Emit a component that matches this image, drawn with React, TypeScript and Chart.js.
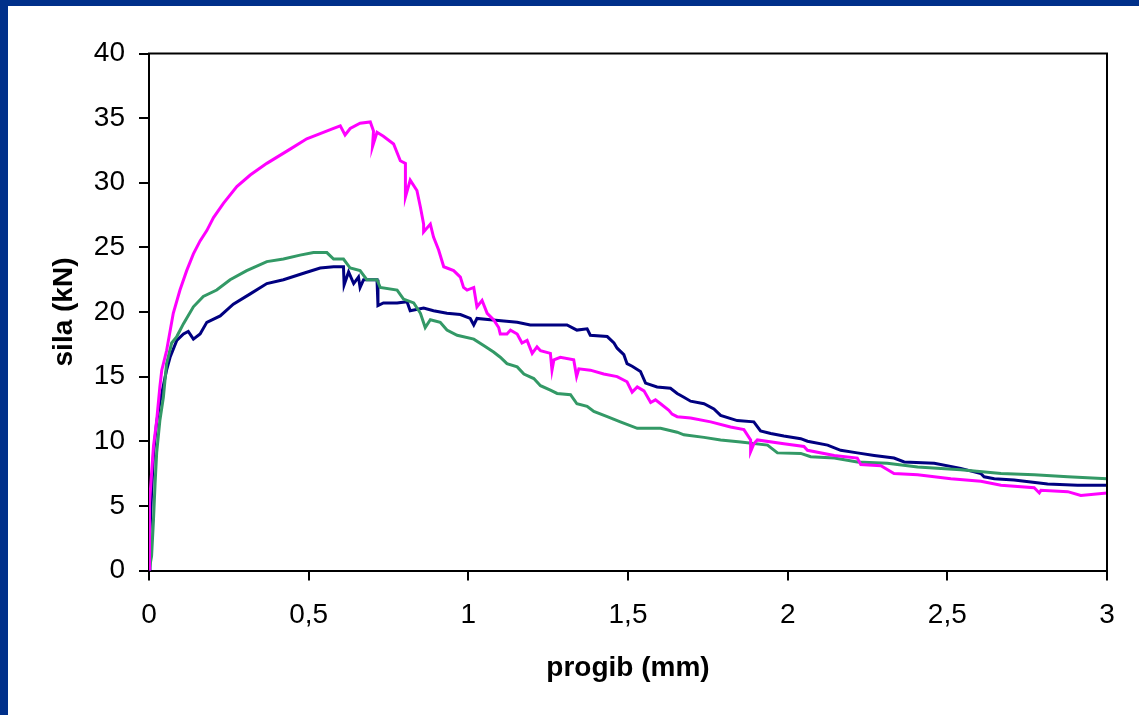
import React, { useEffect, useRef } from 'react';
import { Chart, registerables } from 'chart.js';

Chart.register(...registerables);

// progib (mm) / sila (kN) — series
const magentaX = [
  0.0, 0.0, 0.003, 0.008, 0.014, 0.024, 0.034, 0.04, 0.055, 0.076, 0.097, 0.118, 0.139, 0.16, 0.181, 0.202,
  0.233, 0.275, 0.317, 0.369, 0.442, 0.494, 0.536, 0.578, 0.599, 0.614, 0.63, 0.661, 0.693, 0.703, 0.7,
  0.714, 0.734, 0.766, 0.787, 0.803, 0.803, 0.818, 0.839, 0.85, 0.86, 0.86, 0.881, 0.891, 0.907, 0.923,
  0.954, 0.975, 0.985, 0.996, 1.017, 1.027, 1.043, 1.059, 1.079, 1.095, 1.1, 1.121, 1.132, 1.153, 1.168,
  1.184, 1.2, 1.215, 1.226, 1.257, 1.262, 1.268, 1.288, 1.33, 1.339, 1.346, 1.382, 1.424, 1.466, 1.497,
  1.513, 1.529, 1.55, 1.571, 1.586, 1.602, 1.628, 1.638, 1.654, 1.696, 1.759, 1.821, 1.863, 1.884, 1.884,
  1.894, 1.905, 1.988, 2.051, 2.062, 2.146, 2.218, 2.229, 2.292, 2.333, 2.407, 2.511, 2.605, 2.668, 2.772,
  2.788, 2.793, 2.877, 2.918, 3.0,
];
const magentaY = [
  0.0, 2.5, 5.2, 7.5, 9.6, 11.6, 14.2, 15.5, 17.0, 19.9, 21.7, 23.2, 24.5, 25.5, 26.3, 27.3,
  28.4, 29.7, 30.6, 31.5, 32.6, 33.4, 33.8, 34.2, 34.4, 33.7, 34.2, 34.6, 34.7, 34.0, 32.8,
  33.9, 33.6, 33.0, 31.7, 31.5, 28.9, 30.2, 29.4, 28.1, 26.8, 26.2, 26.8, 25.8, 24.8, 23.5,
  23.2, 22.7, 21.9, 21.7, 21.9, 20.4, 20.9, 19.9, 19.4, 18.8, 18.3, 18.3, 18.6, 18.3, 17.6,
  17.8, 16.8, 17.3, 17.0, 16.8, 15.5, 16.3, 16.5, 16.3, 15.0, 15.6, 15.5, 15.2, 15.0, 14.6,
  13.8, 14.2, 13.9, 13.0, 13.2, 12.9, 12.4, 12.1, 11.9, 11.8, 11.5, 11.1, 10.9, 10.1, 9.2,
  9.8, 10.1, 9.8, 9.6, 9.3, 8.9, 8.7, 8.2, 8.1, 7.5, 7.4, 7.1, 6.9, 6.6, 6.4,
  6.0, 6.2, 6.1, 5.8, 6.0,
];

const navyX = [
  0.0, 0.003, 0.008, 0.014, 0.024, 0.034, 0.045, 0.055, 0.066, 0.087, 0.108, 0.123, 0.139, 0.16, 0.181,
  0.223, 0.264, 0.317, 0.369, 0.421, 0.484, 0.536, 0.578, 0.609, 0.611, 0.625, 0.641, 0.656, 0.661, 0.672,
  0.714, 0.717, 0.734, 0.777, 0.808, 0.818, 0.86, 0.891, 0.933, 0.975, 1.006, 1.017, 1.027, 1.069, 1.111,
  1.153, 1.194, 1.309, 1.34, 1.372, 1.382, 1.435, 1.456, 1.466, 1.487, 1.497, 1.513, 1.539, 1.555, 1.591,
  1.633, 1.654, 1.675, 1.696, 1.738, 1.769, 1.79, 1.842, 1.894, 1.915, 1.947, 1.988, 2.041, 2.062, 2.125,
  2.166, 2.218, 2.271, 2.333, 2.365, 2.459, 2.542, 2.605, 2.615, 2.647, 2.709, 2.814, 2.908, 3.0,
];
const navyY = [
  0.0, 3.0, 6.0, 9.0, 11.5, 13.0, 14.3, 15.5, 16.5, 17.8, 18.3, 18.5, 17.9, 18.3, 19.2,
  19.7, 20.6, 21.4, 22.2, 22.5, 23.0, 23.4, 23.5, 23.5, 22.1, 23.1, 22.2, 22.7, 21.9, 22.5,
  22.5, 20.5, 20.7, 20.7, 20.8, 20.1, 20.3, 20.1, 19.9, 19.8, 19.5, 19.0, 19.5, 19.4, 19.3,
  19.2, 19.0, 19.0, 18.6, 18.7, 18.2, 18.1, 17.6, 17.2, 16.7, 16.0, 15.8, 15.4, 14.5, 14.2,
  14.1, 13.7, 13.4, 13.1, 12.9, 12.5, 12.0, 11.6, 11.5, 10.8, 10.6, 10.4, 10.2, 10.0, 9.7,
  9.3, 9.1, 8.9, 8.7, 8.4, 8.3, 7.9, 7.5, 7.25, 7.1, 7.0, 6.7, 6.6, 6.6,
];

const greenX = [
  0.0, 0.003, 0.008, 0.014, 0.019, 0.024, 0.034, 0.045, 0.055, 0.071, 0.087, 0.108, 0.139, 0.17, 0.212,
  0.254, 0.306, 0.369, 0.421, 0.473, 0.515, 0.557, 0.578, 0.609, 0.63, 0.661, 0.682, 0.714, 0.724, 0.777,
  0.797, 0.829, 0.85, 0.865, 0.881, 0.912, 0.933, 0.965, 1.017, 1.048, 1.079, 1.1, 1.121, 1.153, 1.174,
  1.205, 1.226, 1.257, 1.278, 1.32, 1.34, 1.372, 1.393, 1.435, 1.476, 1.529, 1.602, 1.654, 1.675, 1.738,
  1.79, 1.853, 1.937, 1.968, 2.041, 2.072, 2.146, 2.218, 2.312, 2.407, 2.542, 2.668, 2.772, 2.877, 3.0,
];
const greenY = [
  0.0, 0.0, 1.1, 3.9, 6.7, 9.1, 11.6, 13.4, 16.0, 17.6, 18.1, 19.1, 20.4, 21.2, 21.7,
  22.5, 23.2, 23.9, 24.1, 24.4, 24.6, 24.6, 24.1, 24.1, 23.4, 23.2, 22.5, 22.5, 21.9, 21.7,
  21.0, 20.7, 19.9, 18.8, 19.4, 19.2, 18.6, 18.2, 17.9, 17.4, 16.9, 16.5, 16.0, 15.75, 15.2,
  14.85, 14.3, 13.95, 13.7, 13.6, 12.9, 12.7, 12.3, 11.9, 11.5, 11.0, 11.0, 10.7, 10.5, 10.3,
  10.1, 9.95, 9.7, 9.1, 9.06, 8.8, 8.7, 8.4, 8.3, 8.0, 7.8, 7.5, 7.4, 7.25, 7.1,
];

const xTickLabels = ['0', '0,5', '1', '1,5', '2', '2,5', '3'];
const yTickLabels = ['0', '5', '10', '15', '20', '25', '30', '35', '40'];

const FONT = '"Liberation Sans", Arial, Helvetica, sans-serif';

const toPoints = (xs: number[], ys: number[]) => xs.map((x, i) => ({ x, y: ys[i] }));

export default function App() {
  const ref = useRef<HTMLCanvasElement>(null);

  useEffect(() => {
    if (!ref.current) return;
    const frame = {
      id: 'plotFrame',
      afterDraw(chart: any) {
        const { ctx, chartArea } = chart;
        const { left, top, right, bottom } = chartArea;
        ctx.save();
        ctx.strokeStyle = '#000';
        ctx.lineWidth = 2;
        ctx.beginPath();
        ctx.moveTo(left - 1, top);
        ctx.lineTo(right, top);
        ctx.lineTo(right, bottom);
        ctx.stroke();
        ctx.restore();
      },
    };
    const chart = new Chart(ref.current, {
      type: 'line',
      data: {
        datasets: [
          {
            label: 'Uzorak 3',
            data: toPoints(magentaX, magentaY),
            borderColor: '#FF00FF',
            backgroundColor: '#FF00FF',
            borderWidth: 3,
            pointRadius: 0,
            tension: 0,
            fill: false,
          },
          {
            label: 'Uzorak 2',
            data: toPoints(greenX, greenY),
            borderColor: '#339966',
            backgroundColor: '#339966',
            borderWidth: 3,
            pointRadius: 0,
            tension: 0,
            fill: false,
          },
          {
            label: 'Uzorak 1',
            data: toPoints(navyX, navyY),
            borderColor: '#000080',
            backgroundColor: '#000080',
            borderWidth: 3,
            pointRadius: 0,
            tension: 0,
            fill: false,
          },
        ],
      },
      options: {
        animation: false,
        responsive: false,
        layout: { padding: { left: 0, top: 47.5, right: 32, bottom: 29.5 } },
        plugins: { legend: { display: false }, tooltip: { enabled: false } },
        scales: {
          x: {
            type: 'linear',
            min: 0,
            max: 3,
            ticks: {
              stepSize: 0.5,
              autoSkip: false,
              maxRotation: 0,
              color: '#000',
              padding: 18,
              font: { family: FONT, size: 28 },
              callback: (_v: any, i: number) => xTickLabels[i],
            },
            grid: { drawOnChartArea: false, drawTicks: true, tickLength: 10, color: '#000', lineWidth: 2 },
            border: { display: true, color: '#000', width: 2 },
            title: {
              display: true,
              text: 'progib (mm)',
              color: '#000',
              font: { family: FONT, size: 28, weight: 'bold' },
              padding: { top: 0, bottom: 0 },
            },
            afterFit: (s: any) => {
              s.height = 115;
            },
          },
          y: {
            type: 'linear',
            min: 0,
            max: 40,
            ticks: {
              stepSize: 5,
              color: '#000',
              padding: 14,
              font: { family: FONT, size: 28 },
              callback: (_v: any, i: number) => yTickLabels[i],
            },
            grid: { drawOnChartArea: false, drawTicks: true, tickLength: 10, color: '#000', lineWidth: 2 },
            border: { display: true, color: '#000', width: 2 },
            title: {
              display: true,
              text: 'sila (kN)',
              color: '#000',
              font: { family: FONT, size: 28, weight: 'bold' },
              padding: { top: 39, bottom: 0 },
            },
            afterFit: (s: any) => {
              s.width = 141;
            },
          },
        },
      },
      plugins: [frame],
    } as any);
    return () => chart.destroy();
  }, []);

  return (
    <div style={{ position: 'absolute', left: 0, top: 0, width: 1139, height: 715, background: '#00308A', overflow: 'hidden' }}>
      <div style={{ position: 'absolute', left: 8, top: 6, width: 1131, height: 709, background: '#FFFFFF' }}>
        <canvas ref={ref} width={1131} height={709} style={{ display: 'block' }} />
      </div>
    </div>
  );
}
